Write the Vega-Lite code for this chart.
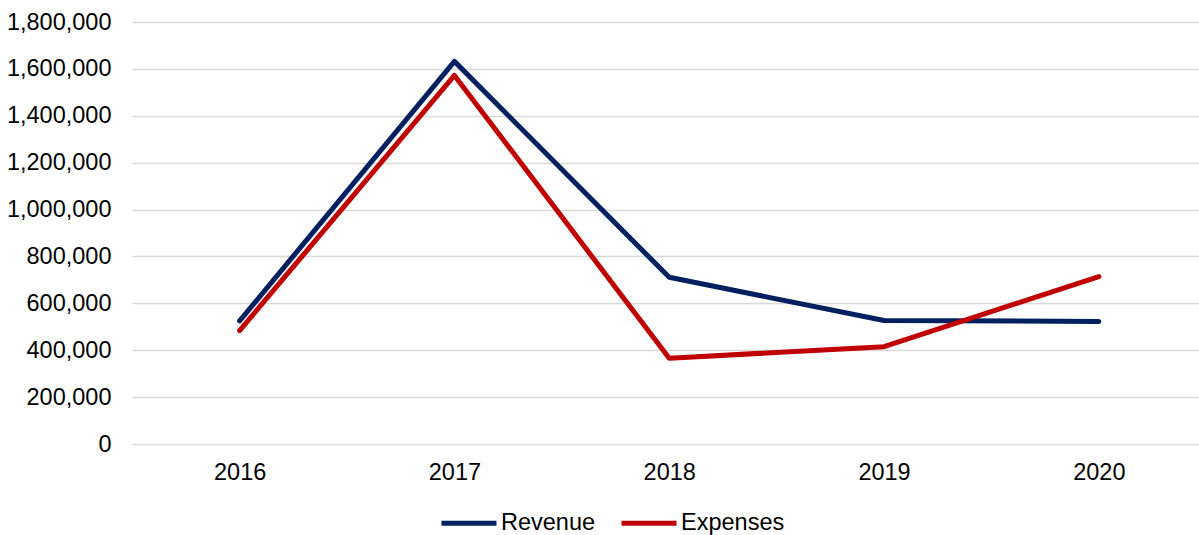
{
  "$schema": "https://vega.github.io/schema/vega-lite/v6.json",
  "autosize": "none",
  "width": 1067,
  "height": 422,
  "padding": {"left": 132, "top": 22, "right": 0, "bottom": 91},
  "background": "white",
  "config": {
    "view": {"stroke": null},
    "font": "Liberation Sans",
    "axis": {"labelFont": "Liberation Sans", "labelFontSize": 23.5, "labelColor": "#000000"},
    "legend": {"labelFont": "Liberation Sans", "labelFontSize": 23.5, "labelColor": "#000000"}
  },
  "data": {
    "values": [
      {"year": "2016", "series": "Revenue", "value": 525000},
      {"year": "2017", "series": "Revenue", "value": 1632000},
      {"year": "2018", "series": "Revenue", "value": 711000},
      {"year": "2019", "series": "Revenue", "value": 527000},
      {"year": "2020", "series": "Revenue", "value": 523000},
      {"year": "2016", "series": "Expenses", "value": 484000},
      {"year": "2017", "series": "Expenses", "value": 1572000},
      {"year": "2018", "series": "Expenses", "value": 366000},
      {"year": "2019", "series": "Expenses", "value": 415000},
      {"year": "2020", "series": "Expenses", "value": 714000}
    ]
  },
  "mark": {"type": "line", "strokeWidth": 5, "strokeCap": "round", "strokeJoin": "round"},
  "encoding": {
    "x": {
      "field": "year",
      "type": "ordinal",
      "scale": {"type": "point", "padding": 0.4837, "align": 0.518},
      "axis": {"title": null, "labelAngle": 0, "ticks": false, "domain": false, "grid": false, "labelPadding": 16}
    },
    "y": {
      "field": "value",
      "type": "quantitative",
      "scale": {"domain": [0, 1800000], "nice": false},
      "axis": {
        "title": null,
        "values": [0, 200000, 400000, 600000, 800000, 1000000, 1200000, 1400000, 1600000, 1800000],
        "format": ",d",
        "ticks": false,
        "domain": false,
        "grid": true,
        "gridColor": "#D9D9D9",
        "gridWidth": 1.5,
        "labelPadding": 21
      }
    },
    "color": {
      "field": "series",
      "type": "nominal",
      "scale": {"domain": ["Revenue", "Expenses"], "range": ["#002060", "#C00000"]},
      "legend": {
        "title": null,
        "orient": "none",
        "direction": "horizontal",
        "legendX": 307,
        "legendY": 471,
        "symbolType": "stroke",
        "symbolSize": 3025,
        "symbolStrokeWidth": 5,
        "labelOffset": 2,
        "columnPadding": 15
      }
    }
  }
}
